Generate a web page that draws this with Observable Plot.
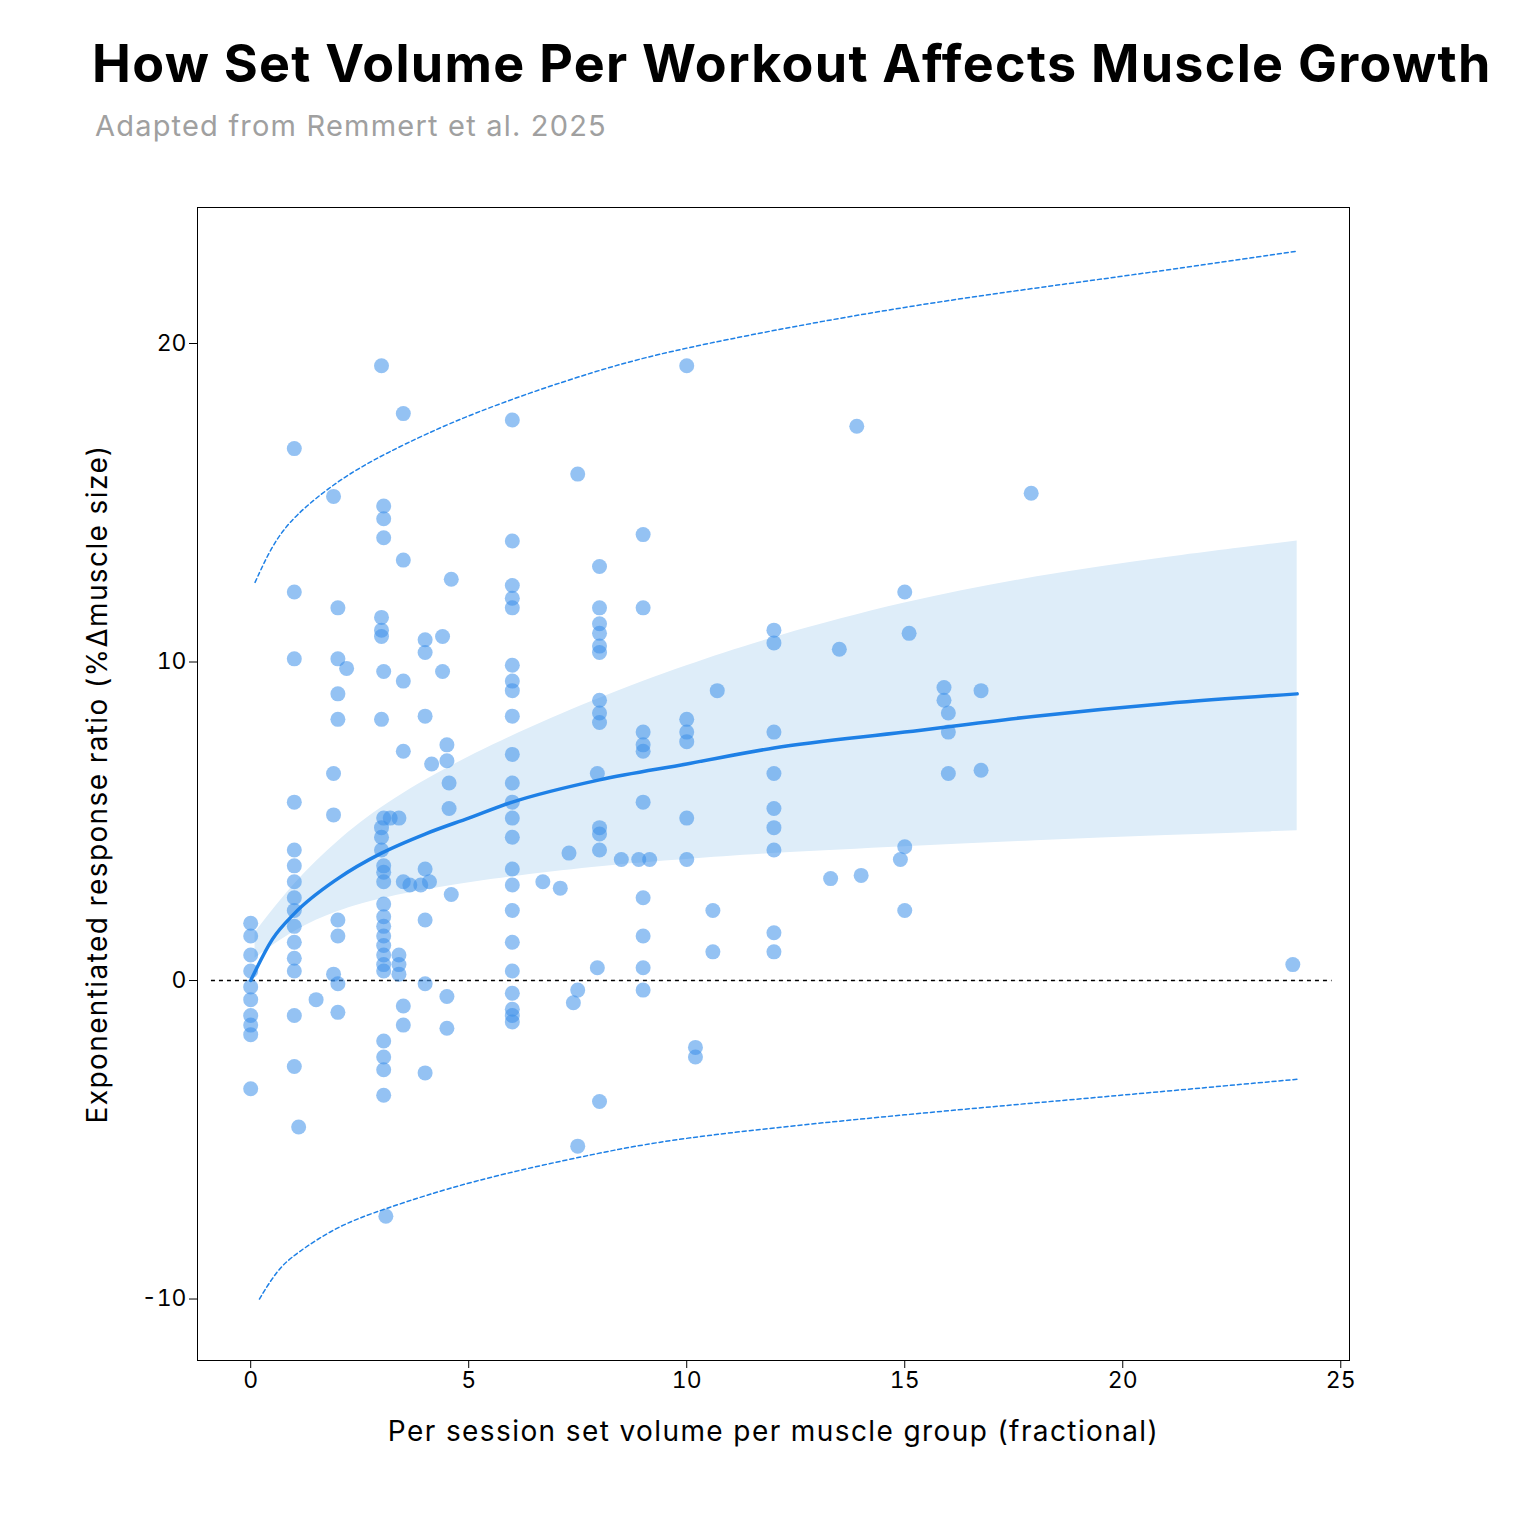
<!DOCTYPE html>
<html><head><meta charset="utf-8">
<script src="https://cdn.jsdelivr.net/npm/d3@7"></script>
<script src="https://cdn.jsdelivr.net/npm/@observablehq/plot@0.6"></script>
<style>
body{margin:0;background:#fff;font-family:Inter,"Noto Sans",sans-serif;}
#head{height:170px;position:relative}
#t{position:absolute;left:92px;top:32px;font-size:52px;font-weight:700;color:#000;letter-spacing:1.3px;white-space:nowrap}
#s{position:absolute;left:95px;top:108px;font-size:29px;color:#a0a0a0;letter-spacing:1.2px}
</style></head><body>
<div id="head"><div id="t">How Set Volume Per Workout Affects Muscle Growth</div><div id="s">Adapted from Remmert et al. 2025</div></div>
<div id="c"></div>
<script>
const pointGroups = [
 [0,[1.8,1.4,0.8,0.3,-0.2,-0.6,-1.1,-1.4,-1.7,-3.4]],
 [1,[16.7,12.2,10.1,5.6,4.1,3.6,3.1,2.6,2.2,1.7,1.2,0.7,0.3,-1.1,-2.7]],
 [1.1,[-4.6]],[1.5,[-0.6]],
 [1.9,[15.2,6.5,5.2,0.2]],
 [2,[11.7,10.1,9.0,8.2,1.9,1.4,-0.1,-1.0]],[2.2,[9.8]],
 [3,[19.3,11.4,11.0,10.8,8.2,4.8,4.5,4.1]],
 [3.05,[14.9,14.5,13.9,9.7,5.1,3.6,3.4,3.1,2.4,2.0,1.7,1.4,1.1,0.8,0.5,0.3,-1.9,-2.4,-2.8,-3.6]],
 [3.1,[-7.4]],[3.2,[5.1]],[3.4,[5.1,0.8,0.5,0.2]],
 [3.5,[17.8,13.2,9.4,7.2,3.1,-0.8,-1.4]],[3.65,[3.0]],[3.9,[3.0]],
 [4,[10.7,10.3,8.3,3.5,1.9,-0.1,-2.9]],[4.1,[3.1]],[4.15,[6.8]],
 [4.4,[10.8,9.7]],[4.5,[7.4,6.9,-0.5,-1.5]],[4.55,[6.2,5.4]],[4.6,[12.6,2.7]],
 [6,[17.6,13.8,12.4,12.0,11.7,9.9,9.4,9.1,8.3,7.1,6.2,5.6,5.1,4.5,3.5,3.0,2.2,1.2,0.3,-0.4,-0.9,-1.1,-1.3]],
 [6.7,[3.1]],[7.1,[2.9]],[7.3,[4.0]],[7.4,[-0.7]],[7.5,[15.9,-0.3,-5.2]],
 [7.95,[6.5,0.4]],[8,[13.0,11.7,11.2,10.9,10.5,10.3,8.8,8.4,8.1,4.8,4.6,4.1,-3.8]],
 [8.5,[3.8]],[8.9,[3.8]],[9,[14.0,11.7,7.8,7.4,7.2,5.6,2.6,1.4,0.4,-0.3]],[9.15,[3.8]],
 [10,[19.3,8.2,7.8,7.5,5.1,3.8]],[10.2,[-2.1,-2.4]],[10.6,[2.2,0.9]],[10.7,[9.1]],
 [12,[11.0,10.6,7.8,6.5,5.4,4.8,4.1,1.5,0.9]],
 [13.3,[3.2]],[13.5,[10.4]],[13.9,[17.4]],[14,[3.3]],[14.9,[3.8]],[15,[12.2,4.2,2.2]],[15.1,[10.9]],
 [15.9,[9.2,8.8]],[16,[8.4,7.8,6.5]],[16.75,[9.1,6.6]],[17.9,[15.3]],[23.9,[0.5]]
];
const fitX =   [0,0.5,1,2,3,4,5,6,8,10,12,15,18,21,24];
const fitY =   [0,1.3,2.1,3.2,4.0,4.6,5.1,5.6,6.3,6.8,7.3,7.8,8.3,8.7,9.0];
const bandX =  [0.1,1,2,3,5,8,10,12,15,18,21,24];
const bandLo = [0.7,1.6,2.2,2.6,3.1,3.6,3.8,4.0,4.2,4.4,4.55,4.7];
const bandHi = [1.5,3.1,4.4,5.5,7.1,8.9,9.9,10.8,11.9,12.7,13.3,13.8];
const predX =  [0.1,0.5,1,2,3,5,8,10,15,20,24];
const predHi = [12.5,13.7,14.6,15.7,16.5,17.8,19.2,19.9,21.2,22.1,22.9];
const predLoX =[0.2,0.6,1,2,3,5,8,10,15,20,24];
const predLo = [-10,-9.1,-8.6,-7.7,-7.2,-6.3,-5.4,-4.9,-4.2,-3.6,-3.1];

const pts = pointGroups.flatMap(([x,ys])=>ys.map(y=>({x,y})));
const fit = fitX.map((x,i)=>({x,y:fitY[i]}));
const band = bandX.map((x,i)=>({x,lo:bandLo[i],hi:bandHi[i]}));
const ph = predX.map((x,i)=>({x,y:predHi[i]}));
const pl = predLoX.map((x,i)=>({x,y:predLo[i]}));
const blue="#1e80e6";
const chart = Plot.plot({
 width:1538,height:1344,marginTop:37,marginBottom:154,marginLeft:197,marginRight:189,
 style:{fontFamily:"Inter, 'Noto Sans', sans-serif",fontSize:"23px",color:"#000"},
 x:{domain:[-1.22,25.2],ticks:[0,5,10,15,20,25],tickSize:8,label:"Per session set volume per muscle group (fractional)",labelAnchor:"center",labelArrow:"none",labelOffset:80},
 y:{domain:[-11.93,24.27],ticks:[-10,0,10,20],tickSize:8,tickFormat:d=>String(d),label:"Exponentiated response ratio (%\u0394muscle size)",labelAnchor:"center",labelArrow:"none",labelOffset:110},
 marks:[
  Plot.areaY(band,{x:"x",y1:"lo",y2:"hi",fill:"#deedf9",curve:"basis"}),
  Plot.ruleY([0],{x1:-0.9,x2:24.8,stroke:"#000",strokeWidth:1.5,strokeDasharray:"4,4"}),
  Plot.dot(pts,{x:"x",y:"y",r:7.5,fill:"#3d90ea",fillOpacity:0.55,stroke:"none"}),
  Plot.lineY(fit,{x:"x",y:"y",stroke:blue,strokeWidth:3.5,curve:"monotone-x"}),
  Plot.lineY(ph,{x:"x",y:"y",stroke:blue,strokeWidth:1.5,strokeDasharray:"4,3",curve:"basis"}),
  Plot.lineY(pl,{x:"x",y:"y",stroke:blue,strokeWidth:1.5,strokeDasharray:"4,3",curve:"basis"}),
  Plot.frame({stroke:"#000",strokeWidth:1})
 ]
});
chart.querySelectorAll('[aria-label="x-axis label"] text,[aria-label="y-axis label"] text').forEach(t=>{t.style.fontSize="28px";t.style.letterSpacing="1.4px";});
document.getElementById("c").appendChild(chart);
</script></body></html>
